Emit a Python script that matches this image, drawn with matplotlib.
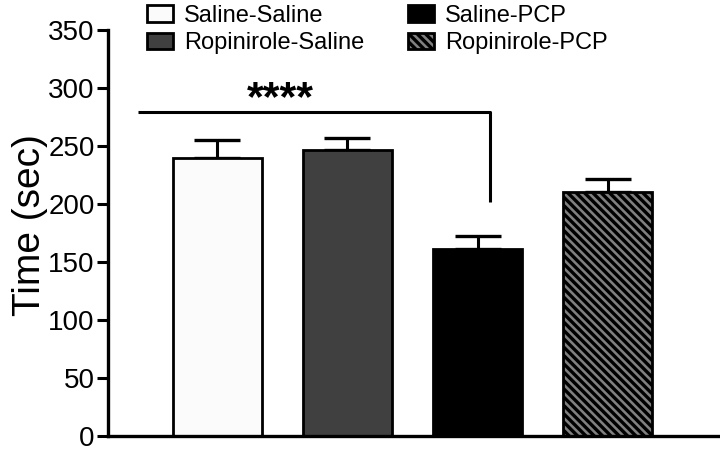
import matplotlib
matplotlib.use("Agg")
import matplotlib.pyplot as plt
from matplotlib.patches import Patch

plt.rcParams['font.family'] = ['Liberation Sans', 'DejaVu Sans']
plt.rcParams['hatch.linewidth'] = 2.4

groups = ["Saline-Saline", "Ropinirole-Saline", "Saline-PCP", "Ropinirole-PCP"]
means = [239.9, 246.8, 160.8, 210.7]
sems = [15.5, 10.3, 11.2, 11.1]
colors = ["#fbfbfb", "#404040", "#000000", "#808080"]
hatches = [None, None, None, "\\\\\\\\"]
yticks = [0, 50, 100, 150, 200, 250, 300, 350]
sig_label = "****"
sig_y = 279.5
sig_drop = 202

fig = plt.figure(figsize=(7.2, 4.5), dpi=100)
ax = fig.add_axes([0.15, 0.0311, 0.85, 0.9022])

x = list(range(len(groups)))
bars = ax.bar(x, means, width=0.685, color=colors, edgecolor="black", linewidth=2.0, zorder=2)
for b, h in zip(bars, hatches):
    if h:
        b.set_hatch(h)
ax.errorbar(x, means, yerr=[[0]*len(sems), sems], fmt="none", ecolor="black",
            elinewidth=2.2, capsize=16.5, capthick=2.4, zorder=1)

ax.set_xlim(-0.842, 3.865)
ax.set_ylim(0, 350)
ax.set_yticks(yticks)
ax.set_xticks([])
ax.tick_params(axis="y", labelsize=20, width=2.2, length=8, pad=1.5)
for s in ["top", "right"]:
    ax.spines[s].set_visible(False)
for s in ["left", "bottom"]:
    ax.spines[s].set_linewidth(2.4)
ax.set_ylabel("Time (sec)", fontsize=28)
ax.yaxis.set_label_coords(-0.098, 0.52)

# significance bracket
ax.plot([-0.612, 2.096, 2.096], [sig_y, sig_y, sig_drop], color="black", lw=2.2,
        clip_on=False, solid_capstyle="butt")
ax.text(0.48, 281, sig_label, ha="center", va="baseline", fontsize=31, fontweight="bold")

handles = [Patch(facecolor=c, edgecolor="black", linewidth=2.0, hatch=h) for c, h in zip(colors, hatches)]
leg_kw = dict(loc="upper left", ncol=1, frameon=False, fontsize=17, handlelength=1.08,
              handleheight=0.72, handletextpad=0.5, labelspacing=0.22, borderpad=0,
              borderaxespad=0)
leg1 = fig.legend(handles[:2], groups[:2], bbox_to_anchor=(147/720, 1 - 5/450), **leg_kw)
leg2 = fig.legend(handles[2:], groups[2:], bbox_to_anchor=(408/720, 1 - 5/450), **leg_kw)

fig.savefig("out.png", dpi=100)
